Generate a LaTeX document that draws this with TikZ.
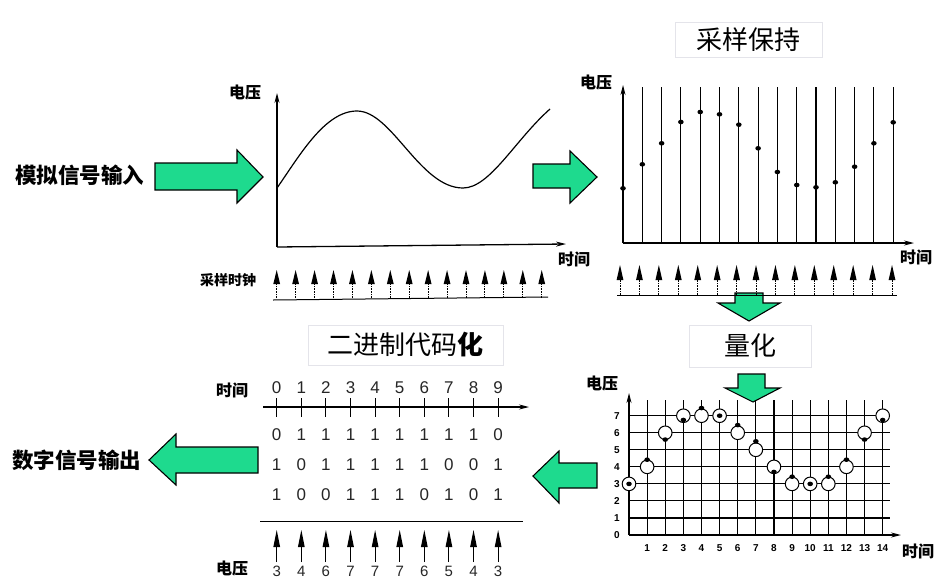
\documentclass[tikz,border=0pt]{standalone}
\usepackage{fontspec}
\setmainfont{Liberation Sans}
\newfontfamily\cjk{Noto Sans CJK SC}
\usetikzlibrary{arrows.meta}
\definecolor{arrowgreen}{RGB}{30,218,142}
\definecolor{boxgray}{RGB}{228,228,234}
\begin{document}
\begin{tikzpicture}[x=1pt,y=-1pt,
  bigarrow/.style={fill=arrowgreen, draw=black, line width=1.1pt, line join=miter},
  axis/.style={line width=1.3pt, -{Stealth[length=10pt,width=5pt]}},
  gridline/.style={line width=1.1pt},
  clockstem/.style={line width=0.9pt, dash pattern=on 1.6pt off 1.1pt},
  lbl/.style={font=\cjk\bfseries\fontsize{16}{16}\selectfont, inner sep=0pt},
  smalllbl/.style={font=\cjk\bfseries\fontsize{14}{14}\selectfont, inner sep=0pt},
  titlebox/.style={draw=boxgray, line width=0.8pt, font=\cjk\fontsize{26}{26}\selectfont, inner sep=0pt},
  side/.style={font=\cjk\bfseries\fontsize{21.5}{21.5}\selectfont, inner sep=0pt},
  digit/.style={font=\fontsize{17}{17}\selectfont, text=black!85, inner sep=0pt},
  tick/.style={font=\bfseries\fontsize{10}{10}\selectfont, inner sep=0pt},
  qcircle/.style={draw=black, fill=white, line width=1pt},
]
\path[use as bounding box] (0,0) rectangle (937,579);

% ---------- side labels ----------
\node[side] (inlbl) at (80,175) {模拟信号输入};
\node[side] (outlbl) at (77,460) {数字信号输出};

% ---------- green arrows ----------
\draw[bigarrow] (155,163) -- (237,163) -- (237,150) -- (263,177) -- (237,203) -- (237,190) -- (155,190) -- cycle;
\draw[bigarrow] (533,164) -- (570,164) -- (570,151) -- (597,177) -- (570,203) -- (570,188) -- (533,188) -- cycle;
\draw[bigarrow] (735,293) -- (763,293) -- (763,303) -- (780,303) -- (749,321) -- (718,303) -- (735,303) -- cycle;
\draw[bigarrow] (738,374) -- (765,374) -- (765,388) -- (780,388) -- (753,402) -- (725,388) -- (738,388) -- cycle;
\draw[bigarrow] (597,463) -- (559,463) -- (559,451) -- (533,476) -- (559,503) -- (559,488) -- (597,488) -- cycle;
\draw[bigarrow] (258,447) -- (176,447) -- (176,434) -- (149,460) -- (176,485) -- (176,473) -- (258,473) -- cycle;

% ---------- titles ----------
\node[titlebox, minimum width=147pt, minimum height=35pt] (t1) at (748.5,39.5) {采样保持};
\node[titlebox, minimum width=122pt, minimum height=42pt] (t2) at (750,346) {量化};
\node[titlebox, minimum width=195pt, minimum height=40pt] (t3) at (405.5,345) {二进制代码{\bfseries 化}};

% ---------- panel 1: analog signal ----------
\coordinate (o1) at (277,247);
\draw[axis] (o1) -- (277,93);
\draw[axis] (o1) -- (566,244);
\node[lbl] (v1) at (245,93) {电压};
\node[lbl] (h1) at (574,259) {时间};
\draw[line width=1.2pt] (277,188) .. controls (300,155) and (325,111) .. (357,111)
  .. controls (392,111) and (420,188) .. (463,188)
  .. controls (490,188) and (515,140) .. (550,109);
\node[smalllbl] (clk) at (228,280) {采样时钟};
\foreach \i in {0,...,14}{
  \pgfmathsetmacro\xx{276.7+\i*18.93}
  \draw[clockstem] (\xx,298) -- (\xx,283);
  \fill (\xx-3.4,284) -- (\xx,270) -- (\xx+3.4,284) -- cycle;
}
\draw[line width=1pt] (273,300) -- (548,297);

% ---------- panel 2: sample & hold ----------
\coordinate (o2) at (623,243);
\draw[axis] (o2) -- (623,85);
\draw[axis] (o2) -- (914,243);
\node[lbl] (v2) at (596,83) {电压};
\node[lbl] (h2) at (916,257) {时间};
\foreach \i/\yy in {0/188.3,1/164.3,2/143.3,3/122,4/112,5/114.3,6/124.7,7/148.3,8/172,9/185,10/187.3,11/182.3,12/166.7,13/143.3,14/122.3}{
  \pgfmathsetmacro\xx{623+\i*19.3}
  \ifnum\i>0 \draw[line width=1.1pt] (\xx,87) -- (\xx,243); \fi
  \fill (\xx,\yy) ellipse (2.8pt and 2.3pt);
}
\foreach \i in {0,...,14}{
  \pgfmathsetmacro\xx{620+\i*19.43}
  \draw[clockstem] (\xx,295) -- (\xx,279);
  \fill (\xx-3.4,280) -- (\xx,265) -- (\xx+3.4,280) -- cycle;
}
\draw[line width=1pt] (617,295) -- (897,295);

% ---------- panel 3: quantisation ----------
\coordinate (o3) at (629,535);
\foreach \l in {1,...,7}{
  \pgfmathsetmacro\yy{535-\l*17.04}
  \draw[gridline] (629,\yy) -- (890,\yy);
}
\foreach \i in {1,...,14}{
  \pgfmathsetmacro\xx{629+\i*18.12}
  \draw[gridline] (\xx,400) -- (\xx,535);
  \node[tick] at (\xx,548) {\i};
}
\foreach \l in {0,...,7}{
  \pgfmathsetmacro\yy{535-\l*17.04}
  \node[tick] at (617,\yy) {\l};
}
\draw[axis] (o3) -- (629,393);
\draw[axis] (o3) -- (901,535);
\node[lbl] (v3) at (602,384) {电压};
\node[lbl] (h3) at (918,551) {时间};
\foreach \i/\q/\s in {0/3/3.0,1/4/4.42,2/6/5.6,3/7/6.75,4/7/7.45,5/7/7.0,6/6/6.45,7/5/5.5,8/4/3.7,9/3/3.42,10/3/3.0,11/3/3.42,12/4/4.42,13/6/5.6,14/7/6.75}{
  \pgfmathsetmacro\xx{629+\i*18.12}
  \pgfmathsetmacro\qy{535-\q*17.04}
  \pgfmathsetmacro\sy{535-\s*17.04}
  \draw[qcircle] (\xx,\qy) circle (6.8pt);
  \fill (\xx,\sy) ellipse (2.8pt and 2.3pt);
}

% ---------- panel 4: binary code ----------
\node[lbl] (h4) at (232,390) {时间};
\coordinate (ta) at (263,407);
\coordinate (tb) at (529,407);
\draw[line width=1.2pt, -{Stealth[length=10pt,width=5pt]}] (ta) -- (tb);
\foreach \i in {0,...,9}{
  \pgfmathsetmacro\xx{276.7+\i*24.6}
  \node[digit] at (\xx,388) {\i};
  \draw[line width=1pt] (\xx,398) -- (\xx,417);
}
\foreach \d [count=\i from 0] in {0,1,1,1,1,1,1,1,1,0}{
  \node[digit] at ({276.7+\i*24.6},435) {\d};
}
\foreach \d [count=\i from 0] in {1,0,1,1,1,1,1,0,0,1}{
  \node[digit] at ({276.7+\i*24.6},465) {\d};
}
\foreach \d [count=\i from 0] in {1,0,0,1,1,1,0,1,0,1}{
  \node[digit] at ({276.7+\i*24.6},495) {\d};
}
\draw[line width=1.2pt] (260,521.5) -- (523,521.5);
\foreach \v [count=\i from 0] in {3,4,6,7,7,7,6,5,4,3}{
  \pgfmathsetmacro\xx{276.7+\i*24.6}
  \draw[line width=0.9pt] (\xx,562) -- (\xx,546);
  \fill (\xx-3.4,547) -- (\xx,530) -- (\xx+3.4,547) -- cycle;
  \node[digit, font=\fontsize{15}{15}\selectfont] at (\xx,571) {\v};
}
\node[lbl] (v4) at (232,569) {电压};
\end{tikzpicture}
\end{document}
